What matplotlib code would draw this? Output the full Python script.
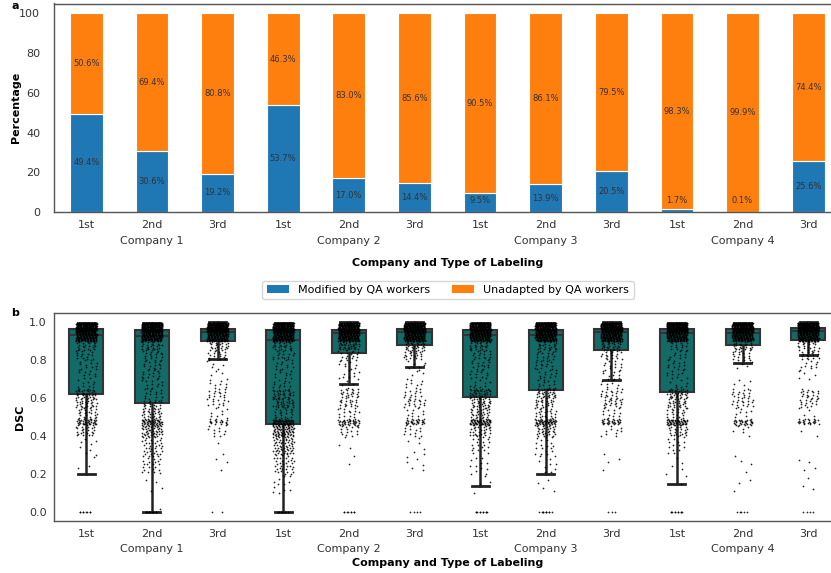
import numpy as np
import matplotlib
matplotlib.use("Agg")
import matplotlib.pyplot as plt
from matplotlib.patches import Patch

plt.rcParams["font.family"] = ["DejaVu Sans"]
plt.rcParams["font.size"] = 8

# ---- panel a: share of labels modified / unadapted by QA workers ----
companies = ["Company 1", "Company 2", "Company 3", "Company 4"]
label_types = ["1st", "2nd", "3rd"]
modified_pct = [49.4, 30.6, 19.2, 53.7, 17.0, 14.4, 9.5, 13.9, 20.5, 1.7, 0.1, 25.6]
unadapted_pct = [50.6, 69.4, 80.8, 46.3, 83.0, 85.6, 90.5, 86.1, 79.5, 98.3, 99.9, 74.4]

# ---- panel b: DSC box statistics per company / labeling round ----
dsc_q1 = [0.624, 0.575, 0.901, 0.463, 0.840, 0.879, 0.607, 0.642, 0.853, 0.632, 0.879, 0.908]
dsc_med = [0.933, 0.928, 0.951, 0.905, 0.945, 0.949, 0.931, 0.931, 0.947, 0.942, 0.945, 0.954]
dsc_q3 = [0.965, 0.961, 0.966, 0.958, 0.961, 0.965, 0.961, 0.960, 0.965, 0.963, 0.965, 0.970]
dsc_lo = [0.203, 0.0, 0.807, 0.0, 0.677, 0.765, 0.140, 0.200, 0.696, 0.151, 0.786, 0.828]
dsc_hi = [0.995, 0.995, 0.999, 0.995, 0.999, 0.999, 0.995, 0.995, 0.999, 0.995, 0.995, 0.999]

# DSC samples, estimated as counts per value band (read from the strip points)
dsc_band_edges = [0.0, 0.1, 0.2, 0.3, 0.4, 0.46, 0.49, 0.55, 0.6, 0.65, 0.7,
                  0.75, 0.8, 0.85, 0.9, 0.95, 0.998]
dsc_zero_counts = [8, 12, 2, 10, 8, 4, 10, 10, 3, 10, 5, 4]
dsc_band_counts = [
    [0, 0, 3, 8, 25, 35, 25, 28, 35, 10, 10, 12, 14, 22, 150, 260],
    [1, 4, 25, 35, 45, 45, 30, 20, 12, 12, 14, 14, 16, 25, 160, 260],
    [0, 0, 3, 2, 10, 20, 8, 12, 14, 8, 4, 5, 15, 25, 150, 300],
    [0, 12, 35, 60, 70, 60, 20, 30, 30, 12, 10, 12, 15, 25, 170, 280],
    [0, 0, 2, 3, 15, 35, 15, 20, 22, 5, 8, 8, 15, 40, 180, 260],
    [0, 0, 6, 6, 12, 30, 10, 18, 12, 8, 4, 8, 20, 30, 170, 280],
    [0, 4, 12, 20, 30, 55, 30, 30, 40, 10, 12, 14, 16, 25, 170, 260],
    [0, 4, 10, 18, 30, 50, 25, 25, 30, 12, 12, 14, 15, 25, 170, 260],
    [0, 0, 3, 1, 10, 30, 12, 20, 18, 8, 10, 12, 18, 30, 170, 280],
    [0, 2, 5, 15, 25, 50, 20, 25, 35, 8, 10, 12, 10, 15, 150, 280],
    [0, 3, 4, 0, 6, 30, 8, 18, 15, 4, 0, 4, 15, 25, 150, 260],
    [0, 3, 4, 0, 2, 25, 4, 15, 18, 0, 5, 10, 18, 20, 160, 300],
]

blue = "#1f77b4"
orange = "#ff7f0e"
teal = "#136b68"
spine_col = "#555555"
text_col = "#333333"

W, H = 831, 573
fig = plt.figure(figsize=(W / 100, H / 100), dpi=100)

left_px, right_px = 53.5, 841
ax1 = fig.add_axes([left_px / W, 1 - 212 / H, (right_px - left_px) / W, 208.5 / H])
ax2 = fig.add_axes([left_px / W, 1 - 521 / H, (right_px - left_px) / W, 208.3 / H])

x = np.arange(len(modified_pct))
tick_labels = label_types * len(companies)

# ---- top: stacked bars ----
ax1.bar(x, modified_pct, width=0.5, color=blue, edgecolor="white", linewidth=0.8)
ax1.bar(x, unadapted_pct, width=0.5, bottom=modified_pct, color=orange,
        edgecolor="white", linewidth=0.8)
for xi, m, u in zip(x, modified_pct, unadapted_pct):
    ax1.text(xi, max(m / 2, 6), f"{m:.1f}%", ha="center", va="center",
             fontsize=6, color=text_col)
    ax1.text(xi, m + u / 2, f"{u:.1f}%", ha="center", va="center",
             fontsize=6, color=text_col)
ax1.set_ylim(0, 105)
ax1.set_yticks([0, 20, 40, 60, 80, 100])
ax1.set_ylabel("Percentage", fontweight="bold", fontsize=8)
ax1.yaxis.set_label_coords(-37 / (right_px - left_px), 0.5)
ax1.yaxis.label.set_va("center")
ax1.tick_params(axis="y", length=0, pad=9.5, colors=text_col, labelsize=8)

# ---- bottom: boxplots with strip points ----
stats = []
for q1, med, q3, lo, hi in zip(dsc_q1, dsc_med, dsc_q3, dsc_lo, dsc_hi):
    stats.append({"q1": q1, "med": med, "q3": q3, "whislo": lo, "whishi": hi, "fliers": []})
ax2.bxp(stats, positions=x, widths=0.52, patch_artist=True, showfliers=False,
        boxprops=dict(facecolor=teal, edgecolor="#333333", linewidth=1.5),
        medianprops=dict(color="#333333", linewidth=1.5),
        whiskerprops=dict(color="#222222", linewidth=1.8),
        capprops=dict(color="#222222", linewidth=2.0))

# spread each band's points with a low-discrepancy (R2) sequence
g = 1.32471795724474602596
a1, a2 = 1 / g, 1 / g ** 2
for i, counts in enumerate(dsc_band_counts):
    xs, ys = [], []
    nz = np.arange(dsc_zero_counts[i]) + 7 * i
    xs.append((((0.5 + nz * a1) % 1) - 0.5) * 0.2)
    ys.append(np.zeros(dsc_zero_counts[i]))
    for b, (lo, hi, n) in enumerate(zip(dsc_band_edges[:-1], dsc_band_edges[1:], counts)):
        if n:
            k = np.arange(n) + 13 * b + 31 * i
            xs.append((((0.5 + k * a1) % 1) - 0.5) * 0.32)
            ys.append(lo + ((0.5 + k * a2) % 1) * (hi - lo))
    ax2.scatter(i + np.concatenate(xs), np.concatenate(ys), s=1.6, color="black",
                linewidths=0, alpha=0.85, zorder=3)

ax2.set_ylim(-0.046, 1.05)
ax2.set_yticks([0.0, 0.2, 0.4, 0.6, 0.8, 1.0])
ax2.set_ylabel("DSC", fontweight="bold", fontsize=8)
ax2.yaxis.set_label_coords(-33 / (right_px - left_px), 0.5)
ax2.yaxis.label.set_va("center")
ax2.tick_params(axis="y", length=0, pad=5, colors=text_col, labelsize=8)

# ---- shared x styling ----
for ax, comp_off, xlab_y, h_px in [(ax1, -29, -51, 208.5), (ax2, -27.7, -42.3, 208.3)]:
    ax.set_xlim(-0.5, len(x) - 0.5)
    ax.set_xticks(x)
    ax.set_xticklabels(tick_labels)
    ax.tick_params(axis="x", length=0, pad=5.5, colors=text_col, labelsize=8)
    for k, comp in enumerate(companies):
        ax.annotate(comp, xy=(3 * k + 1, 0), xycoords=("data", "axes fraction"),
                    xytext=(0, comp_off * 0.72), textcoords="offset points",
                    ha="center", va="center", fontsize=8, color=text_col)
    ax.set_xlabel("Company and Type of Labeling", fontweight="bold", fontsize=8)
    ax.xaxis.set_label_coords(0.5, xlab_y / h_px)
    ax.xaxis.label.set_va("center")
    for sp in ax.spines.values():
        sp.set_color(spine_col)
        sp.set_linewidth(1.0)

fig.legend(handles=[Patch(facecolor=blue, label="Modified by QA workers"),
                    Patch(facecolor=orange, label="Unadapted by QA workers")],
           loc="center", bbox_to_anchor=(448 / W, 1 - 290 / H), ncol=2,
           fontsize=8, columnspacing=2.0, frameon=True)

fig.text(15.5 / W, 1 - 6 / H, "a", fontweight="bold", fontsize=8, ha="center", va="center")
fig.text(15.5 / W, 1 - 312.5 / H, "b", fontweight="bold", fontsize=8, ha="center", va="center")

fig.savefig("out.png", dpi=100)
